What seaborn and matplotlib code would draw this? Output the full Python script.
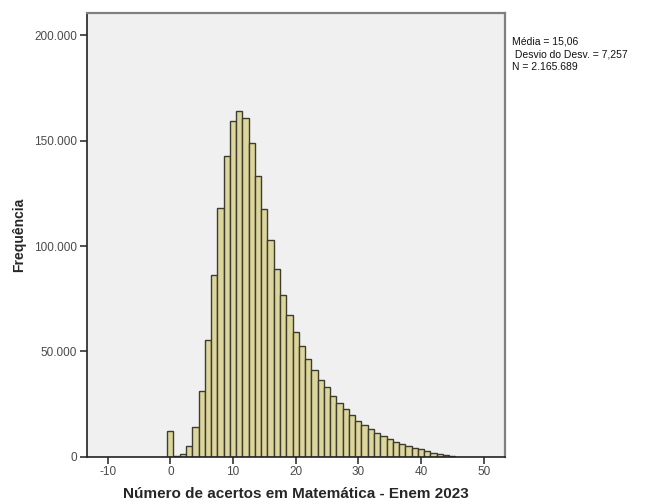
import numpy as np
import pandas as pd
import matplotlib
matplotlib.use("Agg")
import matplotlib.pyplot as plt
import seaborn as sns
from matplotlib.ticker import FuncFormatter

# Dados: acertos (0..45) e frequência de cada um
acertos = list(range(0, 46))
frequencia = [
    12400, 500, 1400, 5200, 14300, 31000, 55200, 86200, 118100, 142900,
    159500, 164300, 161000, 148900, 133400, 117600, 102800, 88900, 76700, 67100,
    59100, 52400, 46200, 41100, 36500, 32900, 28900, 25600, 22600, 19700,
    17100, 14900, 13000, 11400, 9800, 8400, 7100, 6200, 5100, 4300,
    3500, 2500, 1900, 1100, 600, 300,
]
estatisticas = ["Média = 15,06", " Desvio do Desv. = 7,257", "N = 2.165.689"]
x_ticks = [-10, 0, 10, 20, 30, 40, 50]
y_ticks = [0, 50000, 100000, 150000, 200000]

df = pd.DataFrame({"acertos": acertos, "frequencia": frequencia})

sns.set_style("white")
plt.rcParams["font.family"] = ["Liberation Sans", "DejaVu Sans"]
plt.rcParams["axes.unicode_minus"] = False  # hífen simples como no original

fig = plt.figure(figsize=(6.46, 5.04), dpi=100)
ax = fig.add_axes([0.1342, 0.0938, 0.6475, 0.8798])
ax.set_facecolor("#F0F0F0")

sns.histplot(
    data=df, x="acertos", weights="frequencia", discrete=True,
    color="#DDD69C", edgecolor="#3C3C30", linewidth=1.0, alpha=1.0, ax=ax,
)

ax.set_xlim(-13.35, 53.4)
ax.set_ylim(0, 210500)
ax.set_xticks(x_ticks)
ax.set_yticks(y_ticks)
ax.yaxis.set_major_formatter(FuncFormatter(lambda v, p: f"{int(v):,}".replace(",", ".")))
ax.tick_params(axis="both", direction="out", length=5, width=1.2, color="#333333",
               labelsize=8.5, labelcolor="#4a4a4a", bottom=True, left=True, pad=2)

for lado in ["left", "bottom"]:
    ax.spines[lado].set_color("#222222")
    ax.spines[lado].set_linewidth(1.2)
for lado in ["top", "right"]:
    ax.spines[lado].set_color("#808080")
    ax.spines[lado].set_linewidth(1.6)

ax.set_xlabel("Número de acertos em Matemática - Enem 2023", fontsize=11,
              fontweight="bold", labelpad=6)
ax.set_ylabel("Frequência", fontsize=10, fontweight="bold", labelpad=6)

fig.text(0.793, 0.927, "\n".join(estatisticas), fontsize=7.5, va="top", ha="left",
         linespacing=1.3, color="#111111")

fig.savefig("out.png", dpi=100, facecolor="white")
